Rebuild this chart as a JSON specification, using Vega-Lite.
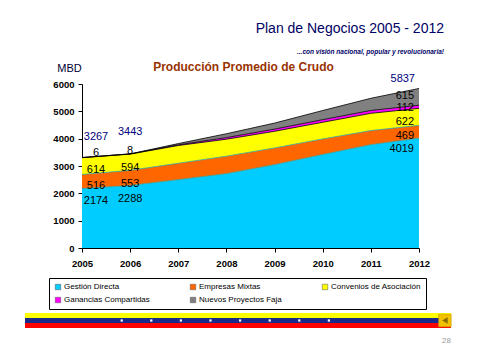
{
  "$schema": "https://vega.github.io/schema/vega-lite/v6.json",
  "padding": {"left": 25, "right": 0, "top": 22, "bottom": 0},
  "background": "white",
  "config": {
    "font": "Liberation Sans",
    "view": {"stroke": null},
    "axisY": {"tickCount": 7, "labelOverlap": false, "format": "d"}
  },
  "title": {
    "text": "Plan de Negocios 2005 - 2012",
    "subtitle": "...con visión nacional, popular y revolucionaria!",
    "anchor": "end",
    "dx": -32,
    "fontSize": 14,
    "fontWeight": "normal",
    "font": "Liberation Sans",
    "color": "#000066",
    "subtitleFont": "Liberation Sans",
    "subtitleColor": "#000066",
    "subtitleFontSize": 6.5,
    "subtitleFontStyle": "italic",
    "subtitleFontWeight": "bold",
    "subtitlePadding": 12.5,
    "offset": 6
  },
  "bounds": "flush",
  "center": true,
  "spacing": 65,
  "resolve": {
    "scale": {"x": "independent", "y": "independent", "fill": "independent"},
    "legend": {"fill": "independent"}
  },
  "vconcat": [
    {
      "width": 337,
      "height": 164,
      "title": {
        "text": "Producción Promedio de Crudo",
        "color": "#993300",
        "fontSize": 12,
        "fontWeight": "bold",
        "font": "Liberation Sans",
        "offset": -12,
        "dx": -7
      },
      "data": {
        "values": [
          {"year": 2005, "series": "Gestión Directa", "k": 1, "value": 2174},
          {"year": 2005, "series": "Empresas Mixtas", "k": 2, "value": 516},
          {"year": 2005, "series": "Convenios de Asociación", "k": 3, "value": 614},
          {"year": 2005, "series": "Ganancias Compartidas", "k": 4, "value": 6},
          {"year": 2005, "series": "Nuevos Proyectos Faja", "k": 5, "value": 0},
          {"year": 2006, "series": "Gestión Directa", "k": 1, "value": 2288},
          {"year": 2006, "series": "Empresas Mixtas", "k": 2, "value": 553},
          {"year": 2006, "series": "Convenios de Asociación", "k": 3, "value": 594},
          {"year": 2006, "series": "Ganancias Compartidas", "k": 4, "value": 8},
          {"year": 2006, "series": "Nuevos Proyectos Faja", "k": 5, "value": 0},
          {"year": 2007, "series": "Gestión Directa", "k": 1, "value": 2500},
          {"year": 2007, "series": "Empresas Mixtas", "k": 2, "value": 600},
          {"year": 2007, "series": "Convenios de Asociación", "k": 3, "value": 650},
          {"year": 2007, "series": "Ganancias Compartidas", "k": 4, "value": 25},
          {"year": 2007, "series": "Nuevos Proyectos Faja", "k": 5, "value": 45},
          {"year": 2008, "series": "Gestión Directa", "k": 1, "value": 2720},
          {"year": 2008, "series": "Empresas Mixtas", "k": 2, "value": 640},
          {"year": 2008, "series": "Convenios de Asociación", "k": 3, "value": 620},
          {"year": 2008, "series": "Ganancias Compartidas", "k": 4, "value": 60},
          {"year": 2008, "series": "Nuevos Proyectos Faja", "k": 5, "value": 140},
          {"year": 2009, "series": "Gestión Directa", "k": 1, "value": 3050},
          {"year": 2009, "series": "Empresas Mixtas", "k": 2, "value": 610},
          {"year": 2009, "series": "Convenios de Asociación", "k": 3, "value": 610},
          {"year": 2009, "series": "Ganancias Compartidas", "k": 4, "value": 80},
          {"year": 2009, "series": "Nuevos Proyectos Faja", "k": 5, "value": 220},
          {"year": 2010, "series": "Gestión Directa", "k": 1, "value": 3420},
          {"year": 2010, "series": "Empresas Mixtas", "k": 2, "value": 570},
          {"year": 2010, "series": "Convenios de Asociación", "k": 3, "value": 610},
          {"year": 2010, "series": "Ganancias Compartidas", "k": 4, "value": 95},
          {"year": 2010, "series": "Nuevos Proyectos Faja", "k": 5, "value": 335},
          {"year": 2011, "series": "Gestión Directa", "k": 1, "value": 3780},
          {"year": 2011, "series": "Empresas Mixtas", "k": 2, "value": 515},
          {"year": 2011, "series": "Convenios de Asociación", "k": 3, "value": 632},
          {"year": 2011, "series": "Ganancias Compartidas", "k": 4, "value": 105},
          {"year": 2011, "series": "Nuevos Proyectos Faja", "k": 5, "value": 445},
          {"year": 2012, "series": "Gestión Directa", "k": 1, "value": 4019},
          {"year": 2012, "series": "Empresas Mixtas", "k": 2, "value": 469},
          {"year": 2012, "series": "Convenios de Asociación", "k": 3, "value": 622},
          {"year": 2012, "series": "Ganancias Compartidas", "k": 4, "value": 112},
          {"year": 2012, "series": "Nuevos Proyectos Faja", "k": 5, "value": 615}
        ]
      },
      "layer": [
        {
          "transform": [{"stack": "value", "groupby": ["year"], "sort": [{"field": "k"}], "as": ["v0", "v1"]}],
          "mark": {"type": "area"},
          "encoding": {
            "x": {
              "field": "year", "type": "quantitative",
              "scale": {"domain": [2005, 2012], "nice": false, "zero": false},
              "axis": {
                "values": [2005, 2006, 2007, 2008, 2009, 2010, 2011, 2012],
                "format": "d", "title": null, "grid": false,
                "labelFontSize": 9.5, "labelFontWeight": "bold", "labelColor": "black",
                "labelFlush": false, "labelPadding": 6,
                "tickSize": 4, "tickColor": "black", "domainColor": "black"
              }
            },
            "y": {
              "field": "v1", "type": "quantitative",
              "scale": {"domain": [0, 6000], "nice": false},
              "axis": {
                "values": [0, 1000, 2000, 3000, 4000, 5000, 6000], "format": "d",
                "grid": false, "title": "MBD", "titleAngle": 0,
                "titleX": -13, "titleY": -16, "titleAlign": "center", "titleBaseline": "middle",
                "titleFontSize": 11, "titleFontWeight": "normal", "titleColor": "#000033",
                "labelFontSize": 9.5, "labelFontWeight": "bold", "labelColor": "black",
                "labelPadding": 4, "tickSize": 4, "tickColor": "black", "domainColor": "black"
              }
            },
            "y2": {"field": "v0"},
            "fill": {
              "field": "series", "type": "nominal",
              "scale": {
                "domain": ["Gestión Directa", "Empresas Mixtas", "Convenios de Asociación", "Ganancias Compartidas", "Nuevos Proyectos Faja"],
                "range": ["#00CCFF", "#FF6600", "#FFFF00", "#FF00FF", "#808080"]
              },
              "legend": {
                "title": null, "orient": "none", "legendX": -33, "legendY": 194,
                "direction": "horizontal", "columns": 3, "columnPadding": 39, "rowPadding": 5,
                "strokeColor": "black", "fillColor": "white", "padding": 5,
                "symbolType": "square", "symbolSize": 30, "symbolStrokeColor": "#555555", "symbolStrokeWidth": 0.5,
                "labelFontSize": 8, "labelColor": "black", "labelOffset": 2, "labelLimit": 200
              }
            }
          }
        },
        {
          "transform": [{"stack": "value", "groupby": ["year"], "sort": [{"field": "k"}], "as": ["v0", "v1"]}],
          "mark": {"type": "line", "strokeWidth": 0.8},
          "encoding": {
            "x": {"field": "year", "type": "quantitative"},
            "y": {"field": "v1", "type": "quantitative"},
            "stroke": {
              "field": "series", "type": "nominal",
              "scale": {
                "domain": ["Gestión Directa", "Empresas Mixtas", "Convenios de Asociación", "Ganancias Compartidas", "Nuevos Proyectos Faja"],
                "range": ["#2E9E9E", "#2E9E9E", "#000000", "#000000", "#000000"]
              },
              "legend": null
            }
          }
        },
        {
          "transform": [{"stack": "value", "groupby": ["year"], "sort": [{"field": "k"}], "as": ["v0", "v1"]}, {"filter": "datum.year == 2005 && datum.k <= 3"}],
          "mark": {"type": "text", "dx": 14, "dy": 12, "fontSize": 11, "color": "black"},
          "encoding": {"x": {"field": "year", "type": "quantitative"}, "y": {"field": "v1", "type": "quantitative"}, "text": {"field": "value"}}
        },
        {
          "transform": [{"stack": "value", "groupby": ["year"], "sort": [{"field": "k"}], "as": ["v0", "v1"]}, {"filter": "datum.year == 2006 && datum.k <= 3"}],
          "mark": {"type": "text", "dy": 14, "fontSize": 11, "color": "black"},
          "encoding": {"x": {"field": "year", "type": "quantitative"}, "y": {"field": "v1", "type": "quantitative"}, "text": {"field": "value"}}
        },
        {
          "transform": [{"stack": "value", "groupby": ["year"], "sort": [{"field": "k"}], "as": ["v0", "v1"]}, {"filter": "datum.year == 2012 && datum.k <= 2"}],
          "mark": {"type": "text", "align": "right", "dx": -5, "dy": 11, "fontSize": 11, "color": "black"},
          "encoding": {"x": {"field": "year", "type": "quantitative"}, "y": {"field": "v1", "type": "quantitative"}, "text": {"field": "value"}}
        },
        {
          "transform": [{"stack": "value", "groupby": ["year"], "sort": [{"field": "k"}], "as": ["v0", "v1"]}, {"filter": "datum.year == 2012 && datum.k == 3"}],
          "mark": {"type": "text", "align": "right", "dx": -5, "dy": 14, "fontSize": 11, "color": "black"},
          "encoding": {"x": {"field": "year", "type": "quantitative"}, "y": {"field": "v1", "type": "quantitative"}, "text": {"field": "value"}}
        },
        {
          "transform": [{"stack": "value", "groupby": ["year"], "sort": [{"field": "k"}], "as": ["v0", "v1"]}, {"filter": "datum.year == 2005 && datum.k == 4"}],
          "mark": {"type": "text", "dx": 14, "dy": -5, "fontSize": 11, "color": "black"},
          "encoding": {"x": {"field": "year", "type": "quantitative"}, "y": {"field": "v1", "type": "quantitative"}, "text": {"field": "value"}}
        },
        {
          "transform": [{"stack": "value", "groupby": ["year"], "sort": [{"field": "k"}], "as": ["v0", "v1"]}, {"filter": "datum.year == 2006 && datum.k == 4"}],
          "mark": {"type": "text", "dy": -3, "fontSize": 11, "color": "black"},
          "encoding": {"x": {"field": "year", "type": "quantitative"}, "y": {"field": "v1", "type": "quantitative"}, "text": {"field": "value"}}
        },
        {
          "transform": [{"stack": "value", "groupby": ["year"], "sort": [{"field": "k"}], "as": ["v0", "v1"]}, {"filter": "datum.year == 2012 && datum.k == 4"}],
          "mark": {"type": "text", "align": "right", "dx": -5, "dy": 3, "fontSize": 11, "color": "black"},
          "encoding": {"x": {"field": "year", "type": "quantitative"}, "y": {"field": "v1", "type": "quantitative"}, "text": {"field": "value"}}
        },
        {
          "transform": [{"stack": "value", "groupby": ["year"], "sort": [{"field": "k"}], "as": ["v0", "v1"]}, {"filter": "datum.year == 2012 && datum.k == 5"}],
          "mark": {"type": "text", "align": "right", "dx": -5, "dy": 8, "fontSize": 11, "color": "black"},
          "encoding": {"x": {"field": "year", "type": "quantitative"}, "y": {"field": "v1", "type": "quantitative"}, "text": {"field": "value"}}
        },
        {
          "data": {"values": [{"year": 2005, "total": 3267}]},
          "mark": {"type": "text", "dx": 14, "dy": -22, "fontSize": 11, "color": "#000080"},
          "encoding": {"x": {"field": "year", "type": "quantitative"}, "y": {"field": "total", "type": "quantitative"}, "text": {"field": "total"}}
        },
        {
          "data": {"values": [{"year": 2006, "total": 3443}]},
          "mark": {"type": "text", "dy": -22, "fontSize": 11, "color": "#000080"},
          "encoding": {"x": {"field": "year", "type": "quantitative"}, "y": {"field": "total", "type": "quantitative"}, "text": {"field": "total"}}
        },
        {
          "data": {"values": [{"year": 2012, "total": 5837}]},
          "mark": {"type": "text", "align": "right", "dx": -4, "dy": -9, "fontSize": 11, "color": "#000080"},
          "encoding": {"x": {"field": "year", "type": "quantitative"}, "y": {"field": "total", "type": "quantitative"}, "text": {"field": "total"}}
        }
      ]
    },
    {
      "width": 451,
      "height": 15,
      "title": {"text": "28", "orient": "bottom", "anchor": "end", "dx": -25, "fontSize": 8, "fontWeight": "normal", "color": "#999999", "offset": 9},
      "layer": [
        {
          "data": {"values": [{"stripe": "amarillo"}, {"stripe": "azul"}, {"stripe": "rojo"}]},
          "mark": {"type": "rect"},
          "encoding": {
            "x": {"datum": -2.267, "type": "quantitative", "scale": {"domain": [-2.267, 12.97], "nice": false, "zero": false}, "axis": null},
            "x2": {"datum": 12.125},
            "y": {"field": "stripe", "type": "nominal", "scale": {"domain": ["amarillo", "azul", "rojo"], "paddingInner": 0, "paddingOuter": 0}, "axis": null},
            "fill": {"field": "stripe", "type": "nominal", "scale": {"domain": ["amarillo", "azul", "rojo"], "range": ["#FFFF00", "#1A2A8A", "#FF0000"]}, "legend": null}
          }
        },
        {
          "data": {"values": [{"n": 1}, {"n": 2}, {"n": 3}, {"n": 4}, {"n": 5}, {"n": 6}, {"n": 7}, {"n": 8}]},
          "mark": {"type": "square", "size": 5, "color": "white", "opacity": 1},
          "encoding": {
            "x": {"field": "n", "type": "quantitative"},
            "y": {"datum": "azul"}
          }
        },
        {
          "data": {"values": [{"n": 11.92}]},
          "mark": {"type": "square", "size": 160, "fill": "#F2C200", "stroke": "#C09000", "strokeWidth": 0.5, "opacity": 1},
          "encoding": {"x": {"field": "n", "type": "quantitative"}, "y": {"datum": "azul"}}
        },
        {
          "data": {"values": [{"n": 11.92}]},
          "mark": {"type": "point", "shape": "triangle-left", "size": 40, "filled": true, "color": "#8A6D00", "opacity": 1},
          "encoding": {"x": {"field": "n", "type": "quantitative"}, "y": {"datum": "azul"}}
        }
      ]
    }
  ]
}
